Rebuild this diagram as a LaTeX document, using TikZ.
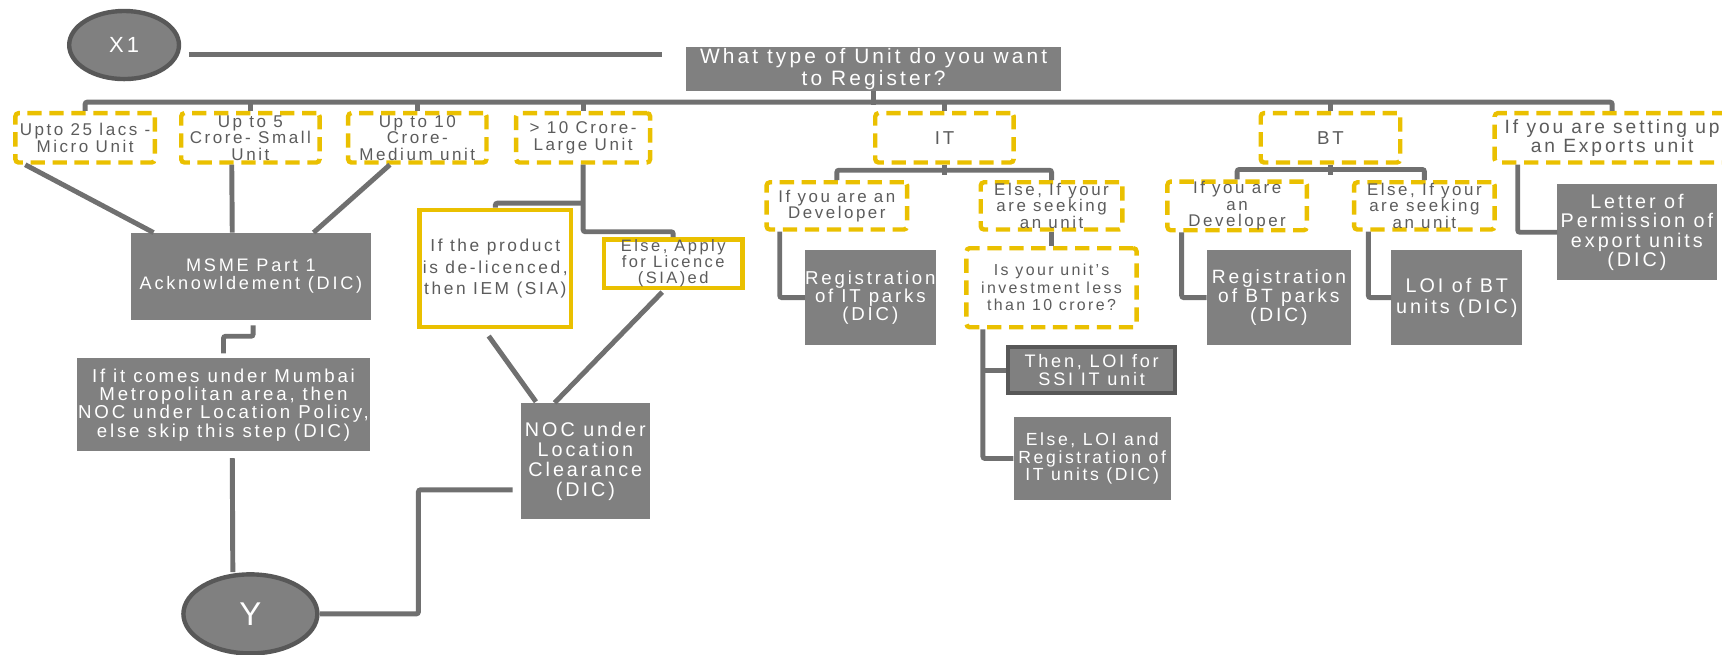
\documentclass[tikz,border=0pt]{standalone}
\usepackage{fontspec}
\setmainfont{Liberation Sans}[LetterSpace=15]
\usetikzlibrary{calc,shapes.geometric}
\definecolor{boxgray}{RGB}{128,128,128}
\definecolor{lngray}{RGB}{112,112,112}
\definecolor{termline}{RGB}{88,88,88}
\definecolor{ylw}{RGB}{234,192,0}
\definecolor{txtgray}{RGB}{92,92,92}
\newcommand\fs[2]{\fontsize{#1}{#2}\selectfont}

\begin{document}
\begin{tikzpicture}[x=1pt,y=-1pt,
  conn/.style={draw=lngray, line width=4.5pt, rounded corners=2pt},
  dbox/.style={draw=ylw, line width=4pt, dash pattern=on 13pt off 7pt, rounded corners=3pt,
    fill=white, text=txtgray, align=center, inner sep=0pt},
  ybox/.style={draw=ylw, line width=4pt, fill=white, text=txtgray, align=center, inner sep=0pt},
  gbox/.style={fill=boxgray, text=white, align=center, inner sep=0pt},
  term/.style={ellipse, fill=boxgray, draw=termline, line width=4pt, text=white, inner sep=0pt}
]
\useasboundingbox (0,0) rectangle (1568,596);

% start and question
\node[term, minimum width=100, minimum height=62, font=\fs{20}{22}] (X1) at (113,41) {X1};
\node[gbox, minimum width=341, minimum height=40, font=\fs{19}{20}] (Q) at (795.5,63) {What type of Unit do you want\\to Register?};

% unit types
\node[dbox, minimum width=127, minimum height=45, font=\fs{15.5}{15}] (B1) at (77.5,125.5) {Upto 25 lacs -\\Micro Unit};
\node[dbox, minimum width=126, minimum height=45, font=\fs{15.5}{15}] (B2) at (228,125.5) {Up to 5\\Crore- Small\\Unit};
\node[dbox, minimum width=126, minimum height=45, font=\fs{15.5}{15}] (B3) at (380,125.5) {Up to 10\\Crore-\\Medium unit};
\node[dbox, minimum width=122, minimum height=45, font=\fs{15.5}{15}] (B4) at (531,125.5) {> 10 Crore-\\Large Unit};
\node[dbox, minimum width=126, minimum height=45, font=\fs{17}{18}] (IT) at (860,125.5) {IT};
\node[dbox, minimum width=127, minimum height=45, font=\fs{17}{18}] (BT) at (1211.5,125.5) {BT};
\node[dbox, minimum width=214, minimum height=45, font=\fs{17.5}{17}] (EX) at (1468,125.5) {If you are setting up\\an Exports unit};

% MSME side
\node[gbox, minimum width=219, minimum height=79, font=\fs{16.5}{17}] (MSME) at (228.5,251.5) {MSME Part 1\\Acknowldement (DIC)};
\node[gbox, minimum width=267, minimum height=85, font=\fs{17}{16.7}] (Mumbai) at (203.5,368.5) {If it comes under Mumbai\\Metropolitan area, then\\NOC under Location Policy,\\else skip this step (DIC)};
\node[term, minimum width=122, minimum height=72, font=\fs{30}{32}] (Y) at (228,559) {Y};

% large unit
\node[ybox, minimum width=138, minimum height=107, font=\fs{15.8}{19.5}] (IEM) at (451,244.5) {If the product\\is de-licenced,\\then IEM (SIA)};
\node[ybox, minimum width=126, minimum height=44, font=\fs{15}{14.5}] (ElseApply) at (613,240) {Else, Apply\\for Licence\\(SIA)ed};
\node[gbox, minimum width=118, minimum height=106, font=\fs{18}{18.3}] (NOC) at (533,420) {NOC under\\Location\\Clearance\\(DIC)};

% IT
\node[dbox, minimum width=128, minimum height=43, font=\fs{15.4}{15}] (ITd) at (762,187.5) {If you are an\\Developer};
\node[dbox, minimum width=129, minimum height=43, font=\fs{15.4}{15}] (ITe) at (957.5,187.5) {Else, If your\\are seeking\\an unit};
\node[gbox, minimum width=119, minimum height=86, font=\fs{17}{16.5}] (ITreg) at (792.5,271) {Registration\\of IT parks\\(DIC)};
\node[dbox, minimum width=155, minimum height=72, font=\fs{14.5}{16}] (Is) at (957.5,262) {Is your unit’s\\investment less\\than 10 crore?};
\node[gbox, draw=termline, line width=4pt, minimum width=152, minimum height=42, font=\fs{16.5}{16}] (Then) at (994,337) {Then, LOI for\\SSI IT unit};
\node[gbox, minimum width=143, minimum height=75, font=\fs{16}{16}] (ElseLOI) at (994.5,417.5) {Else, LOI and\\Registration of\\IT units (DIC)};

% BT
\node[dbox, minimum width=127, minimum height=43, font=\fs{15.4}{15}] (BTd) at (1126.5,187.5) {If you are\\an\\Developer};
\node[dbox, minimum width=128, minimum height=43, font=\fs{15.4}{15}] (BTe) at (1297,187.5) {Else, If your\\are seeking\\an unit};
\node[gbox, minimum width=131, minimum height=86, font=\fs{17.5}{17}] (BTreg) at (1164.5,271) {Registration\\of BT parks\\(DIC)};
\node[gbox, minimum width=119, minimum height=86, font=\fs{18}{19}] (LOIBT) at (1326.5,271) {LOI of BT\\units (DIC)};

% exports
\node[gbox, minimum width=145, minimum height=87, font=\fs{18}{17.7}] (LetterP) at (1490.5,211.5) {Letter of\\Permission of\\export units\\(DIC)};

% top level lines
\draw[conn] ($(X1.east)+(7,9)$) -- ($(Q.west)+(-22,-13)$);
\draw[conn] (Q.south) -- ++(0,12);
\draw[conn] (B1.north) -- ++(0,-8) -| (EX.north);
\foreach \n in {B2,B3,B4,IT,BT}
  \draw[conn] (\n.north) -- ++(0,-8);

% to MSME and on to Y
\draw[conn] ($(B1.south west)+(11,0)$) -- ($(MSME.north west)+(21,0)$);
\draw[conn] ($(B2.south)+(-17,0)$) -- ($(MSME.north)+(-17,0)$);
\draw[conn] ($(B3.south)+(-25,0)$) -- ($(MSME.north)+(57,0)$);
\draw[conn] ($(MSME.south)+(2,5)$) -- ++(0,10) -| ($(Mumbai.north)+(0,-4)$);
\draw[conn] ($(Mumbai.south)+(8,6)$) -- ($(Y.north)+(-16,0)$);
\draw[conn] (Y.east) -- ++(90,0) |- ($(NOC.west)+(-7,26)$);

% large unit lines
\draw[conn] (B4.south) -- ++(0,61) -| (ElseApply.north);
\draw[conn] ($(B4.south)+(0,35)$) -| (IEM.north);
\draw[conn] ($(IEM.south)+(-6,6)$) -- ($(NOC.north)+(-45,-1)$);
\draw[conn] ($(ElseApply.south)+(-10,2)$) -- ($(NOC.north)+(-28,0)$);

% IT lines
\draw[conn] (IT.south) -- ++(0,9);
\draw[conn] (ITd.north) -- ++(0,-9) -| (ITe.north);
\draw[conn] ($(ITd.south west)+(14,0)$) |- (ITreg.west);
\draw[conn] (ITe.south) -- (Is.north);
\draw[conn] ($(Is.south west)+(17,0)$) |- (ElseLOI.west);
\draw[conn] (Then.west) -- ++(-21,0);

% BT and exports lines
\draw[conn] (BT.south) -- ++(0,9);
\draw[conn] (BTd.north) -- ++(0,-9) -| (BTe.north);
\draw[conn] ($(BTd.south west)+(15,0)$) |- (BTreg.west);
\draw[conn] ($(BTe.south west)+(15,0)$) |- (LOIBT.west);
\draw[conn] ($(EX.south west)+(23,0)$) |- (LetterP.west);
\end{tikzpicture}
\end{document}
